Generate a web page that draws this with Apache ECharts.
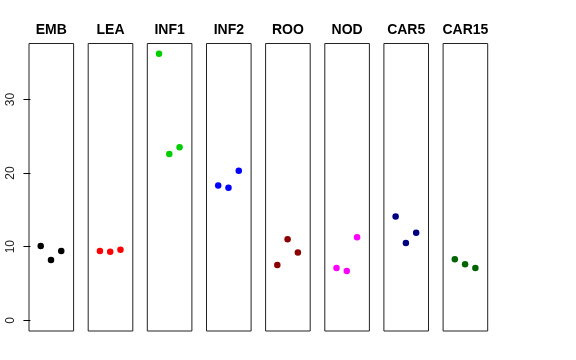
<!DOCTYPE html>
<html><head><meta charset="utf-8">
<script src="https://cdn.jsdelivr.net/npm/echarts@6/dist/echarts.min.js"></script>
<style>html,body{margin:0;padding:0;background:#fff}#c{width:576px;height:360px}</style>
</head><body><div id="c"></div>
<script>
const groups = ['EMB','LEA','INF1','INF2','ROO','NOD','CAR5','CAR15'];
const colors = ['#000000','#FF0000','#00CD00','#0000FF','#8B0000','#FF00FF','#000080','#006400'];
const xPos = [1, 2, 3];
const EMB = [10.1, 8.2, 9.4];
const LEA = [9.4, 9.3, 9.6];
const INF1 = [36.2, 22.6, 23.5];
const INF2 = [18.3, 18.0, 20.3];
const ROO = [7.5, 11.0, 9.2];
const NOD = [7.1, 6.7, 11.3];
const CAR5 = [14.1, 10.5, 11.9];
const CAR15 = [8.3, 7.6, 7.1];
const yTicks = [0, 10, 20, 30];
const values = [EMB, LEA, INF1, INF2, ROO, NOD, CAR5, CAR15];

const lefts = [29, 88.2, 147.3, 206.5, 265.6, 324.8, 383.9, 443.1];
const grids = [], xAxes = [], yAxes = [], series = [];
groups.forEach((g, i) => {
  grids.push({left: lefts[i], top: 43.5, width: 44.6, height: 287.5, show: true,
    borderColor: '#222', borderWidth: 1, containLabel: false});
  xAxes.push({type: 'value', gridIndex: i, min: -0.14, max: 4.2, position: 'top',
    name: g, nameLocation: 'middle', nameGap: 6.5,
    nameTextStyle: {fontFamily: 'Liberation Sans', fontWeight: 'bold', fontSize: 14, color: '#000'},
    axisLine: {show: false}, axisTick: {show: false}, axisLabel: {show: false}, splitLine: {show: false}});
  yAxes.push({type: 'value', gridIndex: i, min: -1.45, max: 37.6,
    axisLine: {show: false},
    axisTick: {show: i === 0, length: 7, customValues: yTicks, lineStyle: {color: '#000'}},
    axisLabel: {show: i === 0, customValues: yTicks, rotate: 90, margin: 12,
      fontFamily: 'Liberation Sans', fontSize: 12, color: '#222'},
    splitLine: {show: false}});
  series.push({type: 'scatter', xAxisIndex: i, yAxisIndex: i, symbolSize: 6.5,
    itemStyle: {color: colors[i], opacity: 1},
    data: values[i].map((v, k) => [xPos[k], v]), silent: true, animation: false});
});
const chart = echarts.init(document.getElementById('c'), null, {renderer: 'canvas'});
chart.setOption({backgroundColor: '#fff', animation: false, grid: grids, xAxis: xAxes, yAxis: yAxes, series});
</script></body></html>
